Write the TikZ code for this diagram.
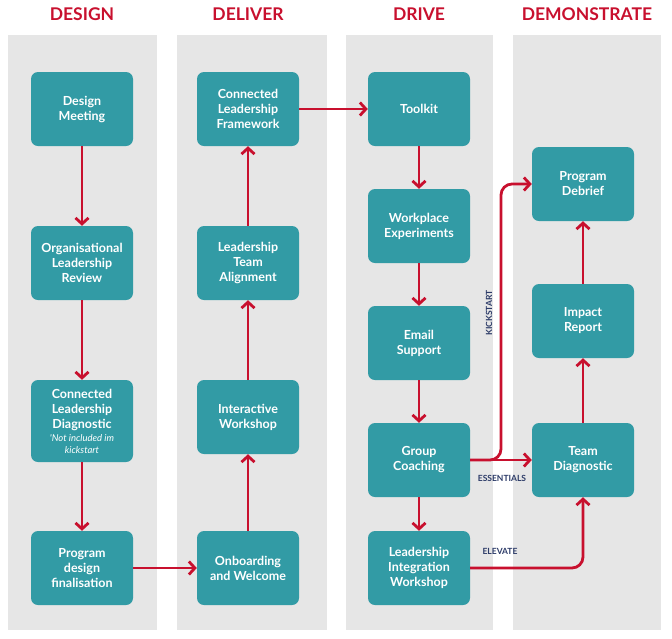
\documentclass[tikz,border=0pt]{standalone}
\usepackage{fontspec}
\setmainfont{Lato}
\usetikzlibrary{arrows.meta}
\definecolor{teal2}{HTML}{329BA5}
\definecolor{lane}{HTML}{E6E6E6}
\definecolor{flow}{HTML}{C8102E}
\definecolor{navy}{HTML}{2B3A67}

\begin{document}
\begin{tikzpicture}[x=1pt,y=-1pt,
                stage/.style = {fill=teal2, rounded corners=7pt, text=white, font=\bfseries\fontsize{12.5}{15}\selectfont,
                               align=center, minimum width=102pt, minimum height=74pt, inner sep=1pt},
                head/.style = {text=flow, font=\bfseries\fontsize{17.5}{20}\selectfont},
                route/.style = {draw=flow, line width=2.8pt, rounded corners=11pt, -{Straight Barb[length=6pt,width=13pt]}},
                tag/.style = {text=navy, font=\bfseries\fontsize{8.5}{10}\selectfont}]
                \useasboundingbox (0,0) rectangle (672,638);
                % lanes
                \fill[lane] (8,35) rectangle (157,630);
                \fill[lane] (177,35) rectangle (327,630);
                \fill[lane] (346,35) rectangle (493,630);
                \fill[lane] (513,35) rectangle (661,630);
                \node[head] (h1) at (82,14) {DESIGN};
                \node[head] (h2) at (248,14) {DELIVER};
                \node[head] (h3) at (419,14) {DRIVE};
                \node[head] (h4) at (587,14) {DEMONSTRATE};
                % design
                \node[stage] (meet) at (82,109) {Design\\Meeting};
                \node[stage] (review) at (82,263) {Organisational\\Leadership\\Review};
                \node[stage, minimum height=82pt] (diag) at (82,421) {Connected\\Leadership\\Diagnostic\\[-2pt]{\mdseries\itshape\fontsize{9.5}{11}\selectfont \textquotesingle Not included im}\\[-3pt]{\mdseries\itshape\fontsize{9.5}{11}\selectfont kickstart}};
                \node[stage] (final) at (82,568) {Program\\design\\finalisation};
                % deliver
                \node[stage] (frame) at (248,109) {Connected\\Leadership\\Framework};
                \node[stage] (align) at (248,263) {Leadership\\Team\\Alignment};
                \node[stage] (work) at (248,417) {Interactive\\Workshop};
                \node[stage] (onb) at (248,568) {Onboarding\\and Welcome};
                % drive
                \node[stage] (tool) at (419,109) {Toolkit};
                \node[stage] (exp) at (419,226) {Workplace\\Experiments};
                \node[stage] (mail) at (419,343) {Email\\Support};
                \node[stage] (coach) at (419,460) {Group\\Coaching};
                \node[stage] (integ) at (419,568) {Leadership\\Integration\\Workshop};
                % demonstrate
                \node[stage] (debrief) at (583,184) {Program\\Debrief};
                \node[stage] (impact) at (583,321) {Impact\\Report};
                \node[stage] (team) at (583,460) {Team\\Diagnostic};
                % flow
                \draw[route] (meet) -- (review);
                \draw[route] (review) -- (diag);
                \draw[route] (diag) -- (final);
                \draw[route] (final) -- (onb);
                \draw[route] (onb) -- (work);
                \draw[route] (work) -- (align);
                \draw[route] (align) -- (frame);
                \draw[route] (frame) -- (tool);
                \draw[route] (tool) -- (exp);
                \draw[route] (exp) -- (mail);
                \draw[route] (mail) -- (coach);
                \draw[route] (coach) -- (integ);
                \draw[route] (coach.east) -- (team.west);
                \draw[route] (coach.east) -- (501,460) -- (501,184) -- (debrief.west);
                \draw[route] (integ.east) -- (583,568) -- (team.south);
                \draw[route] (team) -- (impact);
                \draw[route] (impact) -- (debrief);
                \node[tag, rotate=90] (kick) at (489,313) {KICKSTART};
                \node[tag] (ess) at (502,478) {ESSENTIALS};
                \node[tag] (elev) at (500,551) {ELEVATE};
\end{tikzpicture}
\end{document}
